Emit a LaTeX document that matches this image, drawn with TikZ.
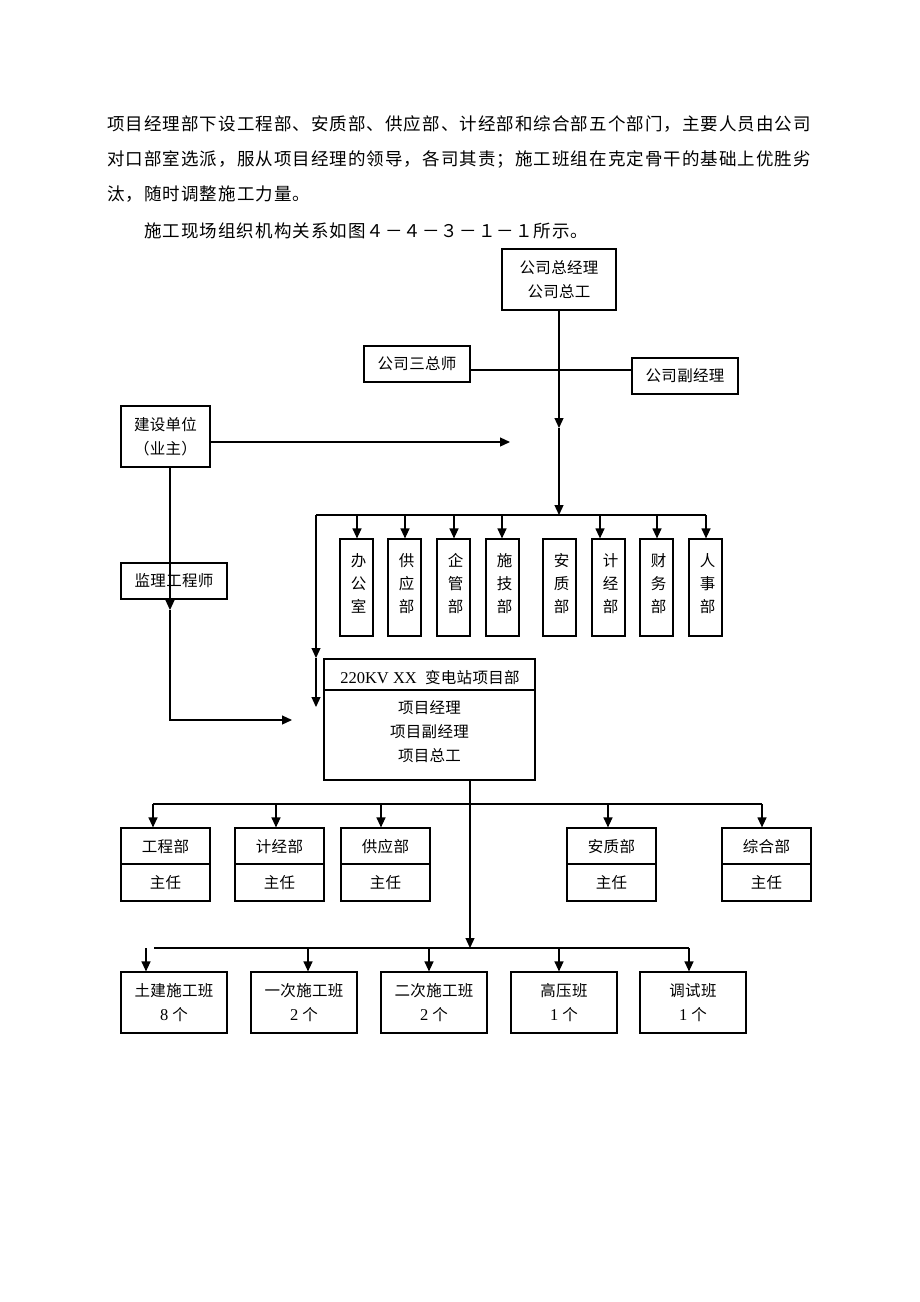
\documentclass[tikz,border=0pt]{standalone}
\usepackage{fontspec}
\setmainfont{Liberation Serif}
\newfontfamily\pfont{Noto Sans CJK SC}[LetterSpace=6]
\newfontfamily\dfont{Noto Sans CJK SC}[LetterSpace=2]
\usetikzlibrary{arrows.meta}
\tikzset{
  box/.style={draw, line width=1.2pt, inner sep=0pt, align=center, font=\dfont\fontsize{15.5pt}{24pt}\selectfont},
  ln/.style={line width=1.2pt},
  arr/.style={line width=1.2pt, -{Triangle[length=10pt,width=9pt]}},
  para/.style={anchor=west, inner sep=0pt, font=\pfont\fontsize{17.5pt}{20pt}\selectfont},
  lbl/.style={inner sep=0pt, align=center, font=\dfont\fontsize{15.5pt}{24pt}\selectfont}
}
\begin{document}
\begin{tikzpicture}[x=1pt,y=-1pt]
\fill[white] (0,0) rectangle (920,1302);
\useasboundingbox (0,0) rectangle (920,1302);

% paragraph
\node[para] (p1) at (107,124) {项目经理部下设工程部、安质部、供应部、计经部和综合部五个部门，主要人员由公司};
\node[para] (p2) at (107,159) {对口部室选派，服从项目经理的领导，各司其责；施工班组在克定骨干的基础上优胜劣};
\node[para] (p3) at (107,194) {汰，随时调整施工力量。};
\node[para] (p4) at (144,231) {施工现场组织机构关系如图４－４－３－１－１所示。};

% top part
\node[box, minimum width=114pt, minimum height=61pt] (gm) at (559,279.5) {公司总经理\\公司总工};
\node[box, minimum width=106pt, minimum height=36pt] (sz) at (417,364) {公司三总师};
\node[box, minimum width=106pt, minimum height=36pt] (fj) at (685,376) {公司副经理};
\node[box, minimum width=89pt, minimum height=61pt] (js) at (165.5,436.5) {建设单位\\（业主）};
\node[box, minimum width=106pt, minimum height=36pt] (jl) at (174,581) {监理工程师};

% sub boxes
\foreach \n/\x/\t in {bg/356.5/办\\公\\室, gy/404.5/供\\应\\部, qg/453.5/企\\管\\部, sj/502.5/施\\技\\部,
  aq/559.5/安\\质\\部, jj/608.5/计\\经\\部, cw/656.5/财\\务\\部, rs/705.5/人\\事\\部}{
  \node[box, minimum width=33pt, minimum height=97pt] (\n) at (\x,587.5) {};
  \node[lbl, font=\dfont\fontsize{15.5pt}{23pt}\selectfont] at ([xshift=2pt,yshift=4pt]\n.center) {\t};
}

% project box
\node[box, minimum width=211pt, minimum height=121pt] (proj) at (429.5,719.5) {};
\coordinate (pd) at (0,690);
\draw[ln] (proj.west |- pd) -- (proj.east |- pd);
\node[lbl] (ptitle) at (430,678) {{\rmfamily\fontsize{16.5pt}{20pt}\selectfont 220KV XX\ \ }变电站项目部};
\node[lbl] (pnames) at (429.5,732) {项目经理\\项目副经理\\项目总工};

% department boxes
\coordinate (dd) at (0,864);
\foreach \n/\x/\t in {d1/165.5/工程部, d2/279.5/计经部, d3/385.5/供应部, d4/611.5/安质部, d5/766.5/综合部}{
  \node[box, minimum width=89pt, minimum height=73pt] (\n) at (\x,864.5) {};
  \draw[ln] (\n.west |- dd) -- (\n.east |- dd);
  \node[lbl] at ([yshift=17.5pt]\n.center) {\t};
  \node[lbl] at ([yshift=-18.5pt]\n.center) {主任};
}

% team boxes
\node[box, minimum width=106pt, minimum height=61pt] (c1) at (174,1002.5) {土建施工班\\{\rmfamily\fontsize{16.5pt}{24pt}\selectfont 8} 个};
\node[box, minimum width=106pt, minimum height=61pt] (c2) at (304,1002.5) {一次施工班\\{\rmfamily\fontsize{16.5pt}{24pt}\selectfont 2} 个};
\node[box, minimum width=106pt, minimum height=61pt] (c3) at (434,1002.5) {二次施工班\\{\rmfamily\fontsize{16.5pt}{24pt}\selectfont 2} 个};
\node[box, minimum width=106pt, minimum height=61pt] (c4) at (564,1002.5) {高压班\\{\rmfamily\fontsize{16.5pt}{24pt}\selectfont 1} 个};
\node[box, minimum width=106pt, minimum height=61pt] (c5) at (693,1002.5) {调试班\\{\rmfamily\fontsize{16.5pt}{24pt}\selectfont 1} 个};

% connectors top
\coordinate (m1) at (559,428);
\coordinate (bm) at (559,515);
\coordinate (hl) at (0,370);
\draw[ln] (sz.east |- hl) -- (fj.west |- hl);
\draw[arr] (gm.south) -- (m1);
\draw[arr] (m1) -- (bm);

\coordinate (jsend) at (510,442);
\draw[arr] (js.east |- jsend) -- (jsend);
\coordinate (v1) at (170,610);
\coordinate (v2) at (170,720);
\coordinate (v3) at (292,720);
\draw[arr] (js.south -| v1) -- (v1);
\draw[arr] (v1) -- (v2) -- (v3);

% bus to sub boxes
\coordinate (bl) at (316,515);
\coordinate (br) at (706,515);
\draw[ln] (bl) -- (br);
\foreach \n/\x in {bg/357, gy/405, qg/454, sj/502, jj/600, cw/657, rs/706}{
  \coordinate (t) at (\x,515);
  \draw[arr] (t) -- (\n.north -| t);
}
\coordinate (l1) at (316,658);
\coordinate (l2) at (316,707);
\draw[arr] (bl) -- (l1);
\draw[arr] (l1) -- (l2);

% below project
\coordinate (pv) at (470,780);
\coordinate (pb) at (470,948);
\draw[arr] (pv) -- (pb);
\coordinate (b1l) at (153,804);
\coordinate (b1r) at (762,804);
\draw[ln] (b1l) -- (b1r);
\foreach \n/\x in {d1/153, d2/276, d3/381, d4/608, d5/762}{
  \coordinate (t) at (\x,804);
  \draw[arr] (t) -- (\n.north -| t);
}
\coordinate (b2l) at (154,948);
\coordinate (b2r) at (689,948);
\draw[ln] (b2l) -- (b2r);
\coordinate (t0) at (146,948);
\draw[arr] (t0) -- (c1.north -| t0);
\foreach \n/\x in {c2/308, c3/429, c4/559, c5/689}{
  \coordinate (t) at (\x,948);
  \draw[arr] (t) -- (\n.north -| t);
}
\end{tikzpicture}
\end{document}
